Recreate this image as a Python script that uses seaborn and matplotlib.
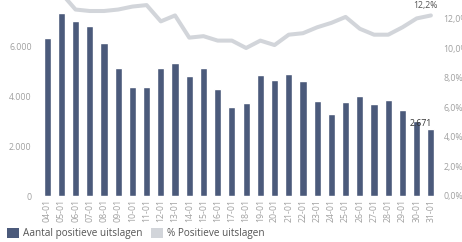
import numpy as np
import pandas as pd
import matplotlib.pyplot as plt
from matplotlib.patches import Patch
from matplotlib.ticker import FuncFormatter
import seaborn as sns

sns.set_theme(style="white")
plt.rcParams['font.family'] = ['Open Sans', 'DejaVu Sans']

dates = ["04-01", "05-01", "06-01", "07-01", "08-01", "09-01", "10-01", "11-01",
         "12-01", "13-01", "14-01", "15-01", "16-01", "17-01", "18-01", "19-01",
         "20-01", "21-01", "22-01", "23-01", "24-01", "25-01", "26-01", "27-01",
         "28-01", "29-01", "30-01", "31-01"]
positives = [6330, 7330, 7010, 6790, 6110, 5130, 4350, 4350,
             5130, 5330, 4800, 5110, 4270, 3570, 3710, 4840,
             4640, 4880, 4600, 3800, 3270, 3770, 4010, 3680,
             3840, 3440, 3010, 2671]
pct_positive = [13.9, 13.7, 12.6, 12.5, 12.5, 12.6, 12.8, 12.9,
                11.8, 12.2, 10.7, 10.8, 10.5, 10.5, 10.0, 10.5,
                10.2, 10.9, 11.0, 11.4, 11.7, 12.1, 11.3, 10.9,
                10.9, 11.4, 12.0, 12.2]

df = pd.DataFrame({"datum": dates, "aantal": positives, "pct": pct_positive})

bar_col = "#4b5a7b"
line_col = "#d2d5da"
tick_col = "#a0a0a0"

fig = plt.figure(figsize=(4.62, 2.42), dpi=100)
ax = fig.add_axes([40 / 462, 46 / 242, 398 / 462, 210 / 242])

sns.barplot(data=df, x="datum", y="aantal", color=bar_col, width=0.5,
            saturation=1, ax=ax)
ax.set_ylim(0, 8400)
ax.set_yticks([0, 2000, 4000, 6000, 8000])
ax.yaxis.set_major_formatter(FuncFormatter(lambda v, p: f"{int(v):,}".replace(",", ".")))
ax.set_xlim(-0.5, len(dates) - 0.5)

ax2 = ax.twinx()
sns.lineplot(data=df, x="datum", y="pct", color=line_col, linewidth=2.9, ax=ax2)
ax2.set_ylim(0, 14.19)
ax2.set_yticks([0, 2, 4, 6, 8, 10, 12])
ax2.yaxis.set_major_formatter(FuncFormatter(lambda v, p: f"{v:.1f}%".replace(".", ",")))

for a in (ax, ax2):
    for s in a.spines.values():
        s.set_visible(False)
    a.set_xlabel("")
    a.set_ylabel("")
    a.tick_params(axis="both", length=0, labelsize=6.3, colors=tick_col)
ax.tick_params(axis="y", pad=6)
ax2.tick_params(axis="y", pad=4)
ax.tick_params(axis="x", pad=2, labelrotation=90)
ax.set_xticks(range(len(dates)))
ax.set_xticklabels(dates, rotation=90)

last = len(dates) - 1
ax.text(last - 0.7, positives[-1] + 60, "2.671", fontsize=6.3, color="#333333",
        ha="center", va="bottom")
ax2.text(last - 0.4, pct_positive[-1] + 0.35, "12,2%", fontsize=6.3, color="#555555",
         ha="center", va="bottom")

handles = [Patch(facecolor=bar_col, edgecolor="none"),
           Patch(facecolor=line_col, edgecolor="none")]
fig.legend(handles, ["Aantal positieve uitslagen", "% Positieve uitslagen"],
           loc="lower left", bbox_to_anchor=(-0.005, -0.025), ncol=2, frameon=False,
           fontsize=7.2, labelcolor="#555555", handlelength=1.2, handleheight=1.2,
           handletextpad=0.4, columnspacing=0.9)

fig.savefig("out.png", dpi=100)
